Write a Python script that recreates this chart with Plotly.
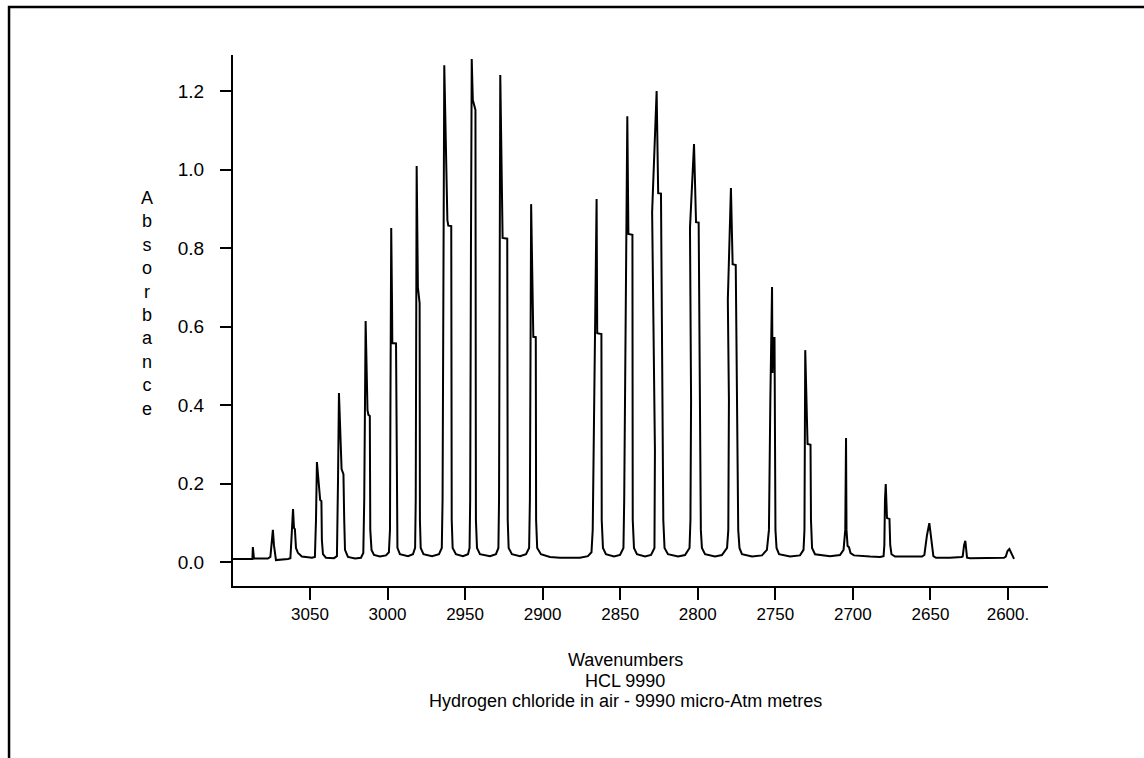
import plotly.graph_objects as go

r_branch_wn = [3099.6, 3088.0, 3087.1, 3086.8, 3086.4, 3086.1, 3077.1, 3075.5, 3074.5, 3073.9,
               3073.2, 3072.2, 3071.9, 3064.2, 3062.6, 3061.6, 3060.9, 3060.3, 3059.7, 3059.0,
               3057.7, 3055.2, 3048.7, 3046.8, 3046.1, 3045.5, 3043.9, 3043.4, 3042.6, 3042.3,
               3041.6, 3039.7, 3034.5, 3032.6, 3031.9, 3031.3, 3029.6, 3028.4, 3027.9, 3027.4,
               3025.5, 3020.9, 3017.1, 3015.6, 3015.0, 3014.1, 3012.9, 3012.3, 3011.4, 3011.1,
               3010.3, 3008.7, 3004.9, 3001.0, 2999.1, 2998.4, 2998.1, 2997.6, 2997.1, 2996.9,
               2994.5, 2994.1, 2993.6, 2992.0, 2986.8, 2983.6, 2982.2, 2981.8, 2981.2, 2980.4,
               2979.9, 2979.3, 2979.1, 2978.6, 2976.8, 2971.3, 2966.8, 2965.0, 2964.5, 2963.9,
               2963.4, 2961.4, 2960.8, 2958.9, 2958.6, 2958.0, 2955.9, 2951.4, 2948.1, 2947.1,
               2946.7, 2946.2, 2945.7, 2945.0, 2944.3, 2943.3, 2943.0, 2942.3, 2940.4, 2933.9,
               2930.1, 2928.5, 2928.1, 2927.8, 2927.3, 2925.8, 2922.8, 2922.5, 2921.9, 2919.8,
               2914.6, 2910.7, 2908.7, 2908.2, 2907.8, 2907.4, 2906.0, 2904.4, 2904.2, 2903.5,
               2901.1, 2895.3, 2888.8, 2875.9, 2870.8, 2868.5]
r_branch_abs = [0.008, 0.008, 0.008, 0.038, 0.009, 0.009, 0.009, 0.013, 0.056, 0.082,
                0.043, 0.010, 0.005, 0.008, 0.010, 0.082, 0.135, 0.087, 0.084, 0.036,
                0.023, 0.014, 0.011, 0.013, 0.107, 0.255, 0.171, 0.158, 0.155, 0.056,
                0.020, 0.011, 0.010, 0.015, 0.209, 0.431, 0.237, 0.224, 0.107, 0.031,
                0.013, 0.009, 0.011, 0.023, 0.158, 0.614, 0.387, 0.375, 0.372, 0.082,
                0.031, 0.018, 0.014, 0.017, 0.025, 0.082, 0.413, 0.851, 0.668, 0.558,
                0.557, 0.107, 0.036, 0.020, 0.015, 0.020, 0.036, 0.158, 1.009, 0.700,
                0.668, 0.660, 0.107, 0.036, 0.020, 0.015, 0.020, 0.036, 0.158, 0.795,
                1.266, 0.871, 0.857, 0.856, 0.107, 0.036, 0.020, 0.015, 0.020, 0.036,
                0.158, 0.795, 1.282, 1.177, 1.167, 1.152, 0.107, 0.036, 0.020, 0.015,
                0.020, 0.036, 0.158, 0.668, 1.241, 0.826, 0.824, 0.107, 0.036, 0.020,
                0.015, 0.020, 0.036, 0.158, 0.540, 0.912, 0.574, 0.573, 0.107, 0.036,
                0.020, 0.013, 0.011, 0.011, 0.015, 0.025]

p_branch_wn = [2867.7, 2866.9, 2865.2, 2864.8, 2862.1, 2861.9, 2861.1, 2859.2, 2854.0, 2850.1,
               2847.9, 2847.4, 2846.6, 2845.4, 2844.7, 2842.1, 2841.9, 2841.1, 2839.2, 2834.0,
               2830.1, 2827.9, 2827.6, 2828.5, 2829.4, 2826.5, 2825.5, 2823.7, 2822.7, 2822.2,
               2821.4, 2819.2, 2812.7, 2808.2, 2805.3, 2804.7, 2804.3, 2805.0, 2802.4, 2801.1,
               2799.4, 2798.6, 2798.0, 2797.3, 2795.3, 2788.9, 2784.4, 2781.1, 2780.3, 2779.9,
               2780.6, 2778.6, 2777.5, 2775.5, 2774.5, 2773.9, 2773.1, 2771.5, 2765.0, 2758.6,
               2755.4, 2754.1, 2753.2, 2752.4, 2752.1, 2751.8, 2751.2, 2750.5, 2750.2, 2749.9,
               2749.2, 2747.6, 2740.5, 2734.1, 2731.8, 2731.2, 2730.7, 2729.2, 2727.3, 2727.0,
               2726.3, 2724.4, 2714.7, 2708.3, 2706.0, 2704.9, 2704.4, 2704.1, 2703.4, 2702.5,
               2701.5, 2699.3, 2688.9, 2682.5, 2680.2, 2679.7, 2679.3, 2678.8, 2678.0, 2676.4,
               2675.9, 2675.1, 2672.8, 2663.2, 2655.4, 2653.9, 2652.2, 2650.7, 2649.6, 2648.1,
               2646.4, 2637.4, 2630.0, 2629.2, 2628.3, 2627.5, 2626.9, 2626.4, 2624.5, 2611.6,
               2602.6, 2601.4, 2600.3, 2599.1, 2597.7, 2596.1]
p_branch_abs = [0.082, 0.413, 0.925, 0.583, 0.581, 0.107, 0.036, 0.020, 0.014, 0.018,
                0.036, 0.158, 0.668, 1.136, 0.836, 0.834, 0.107, 0.036, 0.020, 0.014,
                0.018, 0.036, 0.285, 0.668, 0.892, 1.200, 0.940, 0.939, 0.413, 0.107,
                0.036, 0.020, 0.014, 0.018, 0.036, 0.107, 0.413, 0.851, 1.065, 0.866,
                0.865, 0.413, 0.082, 0.036, 0.020, 0.014, 0.018, 0.036, 0.082, 0.413,
                0.668, 0.953, 0.759, 0.757, 0.413, 0.082, 0.036, 0.020, 0.014, 0.017,
                0.031, 0.082, 0.413, 0.617, 0.701, 0.482, 0.571, 0.571, 0.413, 0.082,
                0.036, 0.020, 0.014, 0.017, 0.031, 0.082, 0.540, 0.301, 0.299, 0.107,
                0.036, 0.020, 0.015, 0.018, 0.031, 0.082, 0.316, 0.082, 0.041, 0.038,
                0.023, 0.017, 0.014, 0.013, 0.015, 0.043, 0.158, 0.199, 0.112, 0.110,
                0.043, 0.020, 0.014, 0.013, 0.014, 0.018, 0.069, 0.099, 0.056, 0.015,
                0.011, 0.011, 0.013, 0.014, 0.043, 0.054, 0.031, 0.011, 0.010, 0.010,
                0.011, 0.014, 0.028, 0.033, 0.020, 0.008]

x_tick_values = [3050, 3000, 2950, 2900, 2850, 2800, 2750, 2700, 2650, 2600]
x_tick_labels = ["3050", "3000", "2950", "2900", "2850", "2800", "2750", "2700", "2650", "2600."]
y_tick_values = [0.0, 0.2, 0.4, 0.6, 0.8, 1.0, 1.2]
y_tick_labels = ["0.0", "0.2", "0.4", "0.6", "0.8", "1.0", "1.2"]

y_title = "Absorbance"
x_title_lines = ["Wavenumbers", "HCL 9990", "Hydrogen chloride in air - 9990 micro-Atm metres"]

FONT = "Arial, Liberation Sans, Helvetica, sans-serif"

fig = go.Figure()
fig.add_trace(go.Scatter(
    x=r_branch_wn + p_branch_wn,
    y=r_branch_abs + p_branch_abs,
    mode="lines",
    line=dict(color="black", width=2),
    hoverinfo="x+y",
    showlegend=False,
))

fig.update_layout(
    width=1144, height=758,
    margin=dict(l=233, r=96, t=55, b=172, pad=0),
    paper_bgcolor="white", plot_bgcolor="white",
    font=dict(family=FONT, color="black", size=17),
    showlegend=False,
    xaxis=dict(
        range=[3099.6, 2574.2],
        showline=True, linecolor="black", linewidth=2,
        ticks="outside", ticklen=12, tickwidth=1.5, tickcolor="black",
        tickvals=x_tick_values, ticktext=x_tick_labels,
        tickfont=dict(size=17, family=FONT, color="black"),
        showgrid=False, zeroline=False,
    ),
    yaxis=dict(
        range=[-0.061, 1.292],
        showline=True, linecolor="black", linewidth=2,
        ticks="outside", ticklen=11, tickwidth=1.5, tickcolor="black",
        tickvals=y_tick_values, ticktext=y_tick_labels,
        tickfont=dict(size=19, family=FONT, color="black"),
        ticklabelstandoff=12,
        showgrid=False, zeroline=False,
    ),
)

# vertical stacked y-axis title
fig.add_annotation(
    text="<br>".join(list(y_title)),
    xref="paper", yref="paper", x=-0.1055, y=0.532,
    xanchor="center", yanchor="middle", showarrow=False,
    font=dict(size=18, family=FONT, color="black"),
)

# bottom title lines
for line_text, ypos in zip(x_title_lines, [-0.1394, -0.1789, -0.2166]):
    fig.add_annotation(
        text=line_text, xref="paper", yref="paper", x=0.481, y=ypos,
        xanchor="center", yanchor="middle", showarrow=False,
        font=dict(size=18, family=FONT, color="black"),
    )

# page frame (left and top border)
fig.add_shape(
    type="path", xref="paper", yref="paper",
    path="M -0.2748,-0.3239 L -0.2748,1.0904 L 1.1178,1.0904",
    line=dict(color="black", width=2.5),
)

fig.write_html("out.html")
